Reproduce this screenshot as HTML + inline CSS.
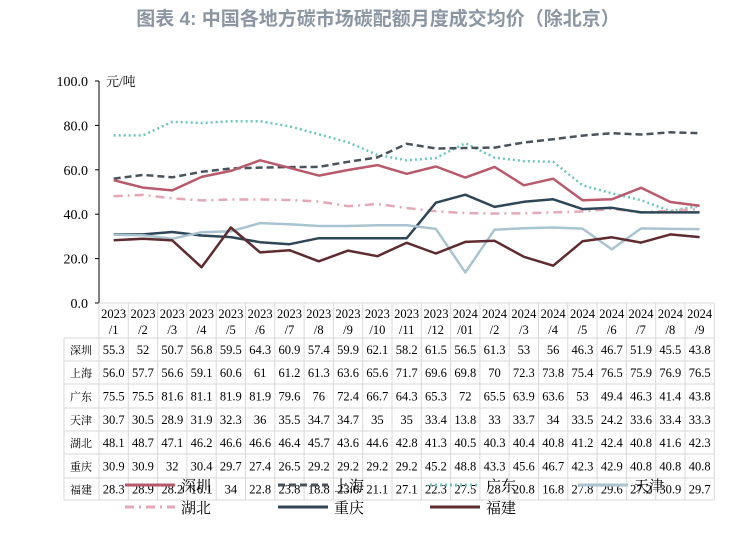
<!DOCTYPE html>
<html><head><meta charset="utf-8"><style>
body{margin:0;background:#fff;width:756px;height:537px;overflow:hidden;font-family:"Liberation Serif","Noto Serif CJK SC",serif;}
</style></head><body>
<svg id="s" width="756" height="537" xmlns="http://www.w3.org/2000/svg" font-family="'Liberation Serif','Noto Serif CJK SC',serif">
<text x="378" y="25" text-anchor="middle" font-family="'Liberation Sans','Noto Sans CJK SC',sans-serif" font-weight="bold" font-size="19" fill="#8c96a3">图表 4:  中国各地方碳市场碳配额月度成交均价（除北京）</text>
</svg>
<script>
const s=document.getElementById('s');const NS='http://www.w3.org/2000/svg';
function el(t,a,txt){const e=document.createElementNS(NS,t);for(const k in a)e.setAttribute(k,a[k]);if(txt!==undefined)e.textContent=txt;s.appendChild(e);return e;}
const X0=99,CW=29.3,Y=v=>303-v*2.22;
el('line',{x1:99,y1:81,x2:99,y2:303,stroke:'#000','stroke-width':1});
for(let i=0;i<=5;i++){const y=303-i*44.4;el('line',{x1:95,y1:y,x2:99,y2:y,stroke:'#000'});el('text',{x:88,y:y+5,'text-anchor':'end','font-size':14},(i*20).toFixed(1));}
el('text',{x:106,y:86,'font-size':13},'元/吨');
const months=['2023\n/1','2023\n/2','2023\n/3','2023\n/4','2023\n/5','2023\n/6','2023\n/7','2023\n/8','2023\n/9','2023\n/10','2023\n/11','2023\n/12','2024\n/01','2024\n/2','2024\n/3','2024\n/4','2024\n/5','2024\n/6','2024\n/7','2024\n/8','2024\n/9'];
const data={
'深圳':[55.3,52,50.7,56.8,59.5,64.3,60.9,57.4,59.9,62.1,58.2,61.5,56.5,61.3,53,56,46.3,46.7,51.9,45.5,43.8],
'上海':['56.0',57.7,56.6,59.1,60.6,61,61.2,61.3,63.6,65.6,71.7,69.6,69.8,70,72.3,73.8,75.4,76.5,75.9,76.9,76.5],
'广东':[75.5,75.5,81.6,81.1,81.9,81.9,79.6,76,72.4,66.7,64.3,65.3,72,65.5,63.9,63.6,53,49.4,46.3,41.4,43.8],
'天津':[30.7,30.5,28.9,31.9,32.3,36,35.5,34.7,34.7,35,35,33.4,13.8,33,33.7,34,33.5,24.2,33.6,33.4,33.3],
'湖北':[48.1,48.7,47.1,46.2,46.6,46.6,46.4,45.7,43.6,44.6,42.8,41.3,40.5,40.3,40.4,40.8,41.2,42.4,40.8,41.6,42.3],
'重庆':[30.9,30.9,32,30.4,29.7,27.4,26.5,29.2,29.2,29.2,29.2,45.2,48.8,43.3,45.6,46.7,42.3,42.9,40.8,40.8,40.8],
'福建':[28.3,28.9,28.2,16.1,34,22.8,23.8,18.8,23.6,21.1,27.1,22.3,27.5,28,20.8,16.8,27.8,29.6,27.2,30.9,29.7]};
const sty={'深圳':{c:'#b85a6c',w:2.5,d:''},'上海':{c:'#4a525c',w:2.5,d:'7,4'},'广东':{c:'#6cc6bb',w:2.5,d:'2,3'},'天津':{c:'#a9c4d0',w:2.5,d:''},'湖北':{c:'#e3a9b6',w:2.5,d:'9,5,2,5'},'重庆':{c:'#2f4656',w:2.5,d:''},'福建':{c:'#5e2b30',w:2.5,d:''}};
const rows=[303,338,361,384,408,431,454,478,500];
const g='#d8d8d8';
for(const y of rows)el('line',{x1:y==303?99:64,y1:y,x2:714,y2:y,stroke:g});
el('line',{x1:64,y1:338,x2:64,y2:500,stroke:g});
for(let i=0;i<=21;i++){const x=X0+i*CW;el('line',{x1:x,y1:303,x2:x,y2:500,stroke:g});}
months.forEach((m,i)=>{const [a,b]=m.split('\n');const cx=X0+(i+.5)*CW;el('text',{x:cx,y:318,'text-anchor':'middle','font-size':12.5},a);el('text',{x:cx,y:334,'text-anchor':'middle','font-size':12.5},b);});
const names=Object.keys(data);
names.forEach((n,r)=>{const yc=(rows[r+1]+rows[r+2])/2+4.5;el('text',{x:81,y:yc,'text-anchor':'middle','font-size':11},n);
data[n].forEach((v,i)=>el('text',{x:X0+(i+.5)*CW,y:yc,'text-anchor':'middle','font-size':12.5},String(v)));});
const order=['广东','上海','深圳','湖北','重庆','天津','福建'];
for(const n of order){const st=sty[n];const pts=data[n].map((v,i)=>(X0+(i+.5)*CW).toFixed(1)+','+Y(+v).toFixed(1)).join(' ');
el('polyline',{points:pts,fill:'none',stroke:st.c,'stroke-width':st.w,'stroke-dasharray':st.d,'stroke-linejoin':'round'});}
const leg=[['深圳',125,485],['上海',278,485],['广东',430,485],['天津',578,485],['湖北',125,507],['重庆',278,507],['福建',430,507]];
for(const [n,x,y] of leg){const st=sty[n];el('line',{x1:x,y1:y,x2:x+50,y2:y,stroke:st.c,'stroke-width':3,'stroke-dasharray':st.d});el('text',{x:x+56,y:y+6,'font-size':15},n);}
</script>
</body></html>
